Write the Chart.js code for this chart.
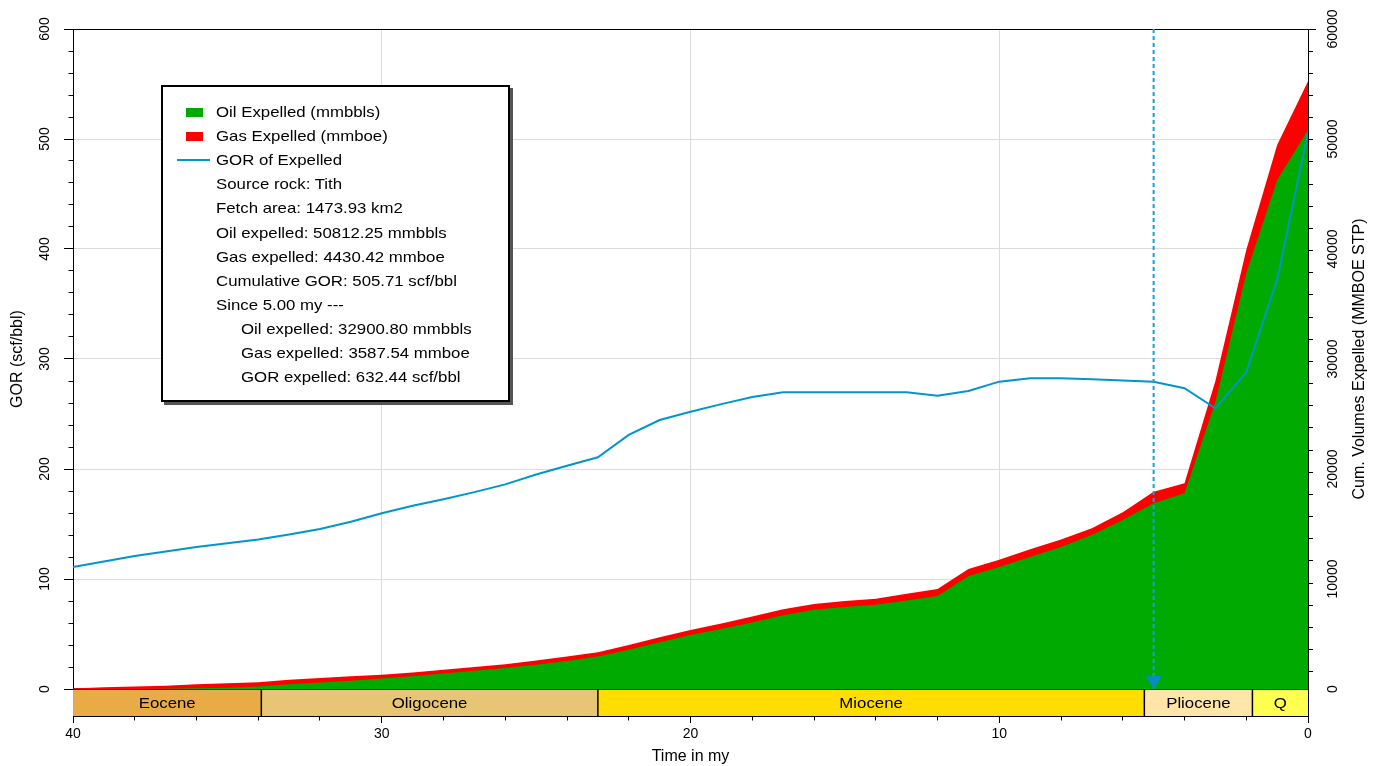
<!DOCTYPE html>
<html>
<head>
<meta charset="utf-8">
<script src="https://cdn.jsdelivr.net/npm/chart.js@4.4.1/dist/chart.umd.min.js"></script>
<style>
html,body{margin:0;padding:0;background:#fff;overflow:hidden;}
#wrap{position:relative;width:1374px;height:766px;}
#c{position:absolute;left:0;top:0;}
#legendBox{position:absolute;left:161px;top:85px;width:349px;height:317px;box-sizing:border-box;border:2px solid #000;background:#fff;box-shadow:3px 3px 0 #555;font:15px 'Liberation Sans',Arial,sans-serif;color:#000;}
.row{position:absolute;left:0;height:24px;width:100%;}
.txt{position:absolute;top:0;line-height:24px;white-space:nowrap;transform:scaleX(1.12);transform-origin:0 50%;}
.sw{position:absolute;}
</style>
</head>
<body>
<div id="wrap">
<canvas id="c" width="1374" height="766"></canvas>
<div id="legendBox"></div>
</div>
<script>
// ---------------- data ----------------
const ageMy = [40,39,38,37,36,35,34,33,32,31,30,29,28,27,26,25,24,23,22,21,20,19,18,17,16,15,14,13,12,11,10,9,8,7,6,5,4,3,2,1,0];
// cumulative oil expelled (mmbbls)
const oilExpelled = [0,0,0,20,60,120,230,430,600,760,950,1150,1400,1650,1900,2200,2550,2950,3570,4250,4900,5450,6050,6700,7200,7450,7650,8050,8450,10250,11100,12000,12900,14000,15360,16880,17790,26100,37800,46270,50810];
// cumulative gas expelled (mmboe)
const gasExpelled = [50,150,230,280,370,400,390,400,400,390,350,350,350,350,350,400,400,400,430,450,460,500,550,550,520,550,550,600,650,650,650,700,700,620,700,1055,910,1900,2100,3180,4440];
// GOR of expelled (scf/bbl)
const gorExpelled = [111,116,121,125,129,132.5,136,140.5,145.5,152,159.7,166.5,172.5,179,186,195,203,210.6,231,244.5,252,259,265.5,269.7,269.7,269.7,269.7,269.7,266.5,271,279.4,282.4,282.4,281.5,280.5,279.4,273.4,255.2,288,372,505.7];

const epochNames = ['Eocene','Oligocene','Miocene','Pliocene','Q'];
const epochStart = [40,33.9,23.0,5.3,1.8];
const epochEnd   = [33.9,23.0,5.3,1.8,0];
const sinceAgeMy = 5.0;

const xTickLabels = [40,30,20,10,0];
const leftTickLabels = [0,100,200,300,400,500,600];
const rightTickLabels = [0,10000,20000,30000,40000,50000,60000];

const legendSeries = ['Oil Expelled (mmbbls)','Gas Expelled (mmboe)','GOR of Expelled'];
const infoLines = ['Source rock: Tith','Fetch area: 1473.93 km2','Oil expelled: 50812.25 mmbbls','Gas expelled: 4430.42 mmboe','Cumulative GOR: 505.71 scf/bbl','Since 5.00 my ---'];
const sinceLines = ['Oil expelled: 32900.80 mmbbls','Gas expelled: 3587.54 mmboe','GOR expelled: 632.44 scf/bbl'];

// ---------------- styles ----------------
const epochFill = ['#e9ab45','#e8c575','#ffdd00','#ffe6a8','#ffff50'];
const OIL_COLOR = '#00aa00', GAS_COLOR = '#ff0000', GOR_COLOR = '#0096cc';
const FONT = "'Liberation Sans', Arial, Helvetica, sans-serif";
const LEFT_MAX = 600, RIGHT_MAX = 60000;
const GEO_FRAC = 27/660;                 // height of the epoch band relative to the value range
const leftMin = -LEFT_MAX * GEO_FRAC;
const rightMin = -RIGHT_MAX * GEO_FRAC;

Chart.defaults.font.family = FONT;
Chart.defaults.color = '#000';

const pts = ys => ageMy.map((a,i) => ({x:a, y:ys[i]}));

// arrow glyph: tip at the canvas centre
const arrowImg = (() => {
  const c = document.createElement('canvas'); c.width = 17; c.height = 28;
  const g = c.getContext('2d'); g.fillStyle = '#0a8cc2';
  g.beginPath(); g.moveTo(0.5,1); g.lineTo(16.5,1); g.lineTo(8.5,14); g.closePath(); g.fill();
  return c;
})();

const geoFills = epochNames.map((n,i) => ({
  label:n, data:[{x:epochStart[i],y:0},{x:epochEnd[i],y:0}], xAxisID:'x', yAxisID:'y',
  backgroundColor:epochFill[i], borderColor:'#000', borderWidth:1.5, fill:{value:leftMin},
  pointRadius:0, order:6
}));
const geoBounds = epochEnd.slice(0,-1).map(b => ({
  label:'b'+b, data:[{x:b,y:0},{x:b,y:leftMin}], xAxisID:'x', yAxisID:'y',
  borderColor:'#000', borderWidth:1.5, fill:false, pointRadius:0, order:5
}));

const axisText = {
  id:'axisText',
  afterDatasetsDraw(chart){
    const ctx = chart.ctx, x = chart.scales.x, y = chart.scales.y;
    ctx.save();
    ctx.fillStyle = '#000'; ctx.textAlign = 'center'; ctx.textBaseline = 'middle';
    ctx.font = '15px ' + FONT;
    const cy = (y.getPixelForValue(0) + y.getPixelForValue(leftMin)) / 2 + 1;
    epochNames.forEach((n,i) => {
      const cx = (x.getPixelForValue(epochStart[i]) + x.getPixelForValue(epochEnd[i])) / 2;
      ctx.save(); ctx.translate(cx, cy); ctx.scale(1.12,1); ctx.fillText(n,0,0); ctx.restore();
    });
    ctx.restore();
  },
  afterDraw(chart){
    const ctx = chart.ctx, y = chart.scales.y, y2 = chart.scales.y2;
    const rot = (px, py, t) => { ctx.save(); ctx.translate(px, py); ctx.rotate(-Math.PI/2); ctx.fillText(t,0,0); ctx.restore(); };
    ctx.save();
    ctx.fillStyle = '#000'; ctx.textAlign = 'center'; ctx.textBaseline = 'middle';
    ctx.font = '14px ' + FONT;
    leftTickLabels.forEach(v => rot(y.right - 28, y.getPixelForValue(v), String(v)));
    rightTickLabels.forEach(v => rot(y2.left + 25, y2.getPixelForValue(v), String(v)));
    ctx.font = '16px ' + FONT;
    const midY = (chart.chartArea.top + y.getPixelForValue(0)) / 2;
    rot(y.left + 18, midY, 'GOR (scf/bbl)');
    rot(y2.left + 52, midY, 'Cum. Volumes Expelled (MMBOE STP)');
    ctx.restore();
  }
};

new Chart(document.getElementById('c'), {
  type:'line',
  data:{ datasets:[
    { label:'arrow', data:[{x:sinceAgeMy,y:0}], xAxisID:'x', yAxisID:'y', showLine:false, pointStyle:arrowImg, pointRadius:9, order:0 },
    { label:'since', data:[{x:sinceAgeMy,y:LEFT_MAX},{x:sinceAgeMy,y:0}], xAxisID:'x', yAxisID:'y', borderColor:'#159fdb', borderWidth:2, borderDash:[4,3], pointRadius:0, fill:false, order:1 },
    { label:legendSeries[2], data:pts(gorExpelled), xAxisID:'x', yAxisID:'y', borderColor:GOR_COLOR, borderWidth:2, pointRadius:0, fill:false, tension:0, order:2 },
    { label:legendSeries[0], data:pts(oilExpelled), xAxisID:'x', yAxisID:'y2', backgroundColor:OIL_COLOR, borderColor:OIL_COLOR, borderWidth:0, pointRadius:0, fill:'origin', order:3 },
    { label:legendSeries[1], data:pts(gasExpelled), xAxisID:'x', yAxisID:'y2', backgroundColor:GAS_COLOR, borderColor:GAS_COLOR, borderWidth:0, pointRadius:0, fill:'origin', order:4 },
    ...geoBounds,
    ...geoFills
  ]},
  options:{
    responsive:false, animation:false, devicePixelRatio:1,
    layout:{padding:0},
    plugins:{ legend:{display:false}, tooltip:{enabled:false}, filler:{propagate:false} },
    elements:{ line:{tension:0} },
    scales:{
      x:{ type:'linear', position:'bottom', reverse:true, min:0, max:40,
        afterFit:s => { s.height = 50; },
        ticks:{ stepSize:2, autoSkip:false, maxRotation:0, minRotation:0, padding:3, font:{size:14}, color:'#000',
          callback:v => xTickLabels.includes(v) ? String(v) : '' },
        grid:{ color:c => (c.tick && [10,20,30].includes(c.tick.value)) ? '#dcdcdc' : 'rgba(0,0,0,0)',
          tickColor:'#000', tickLength:7, lineWidth:1,
          tickBorderDash:c => (c.tick && c.tick.value % 10 === 0) ? [] : [3.5,100] },
        border:{ display:true, color:'#000', width:1 },
        title:{ display:true, text:'Time in my', font:{size:16}, padding:{top:0,bottom:0}, color:'#000' } },
      xTop:{ type:'linear', position:'top', reverse:true, min:0, max:40,
        afterFit:s => { s.height = 29; },
        ticks:{display:false}, grid:{drawOnChartArea:false, drawTicks:false},
        border:{display:true, color:'#000', width:1} },
      y:{ type:'linear', position:'left', min:leftMin, max:LEFT_MAX,
        afterBuildTicks:s => { s.ticks = s.ticks.filter(t => t.value >= -1e-6); },
        afterFit:s => { s.width = 73; },
        ticks:{ stepSize:20, autoSkip:false, color:'rgba(0,0,0,0)', font:{size:14} },
        grid:{ color:c => (c.tick && c.tick.value > 0 && c.tick.value < LEFT_MAX && c.tick.value % 100 === 0) ? '#dcdcdc' : 'rgba(0,0,0,0)',
          tickColor:'#000', tickLength:9, lineWidth:1,
          tickBorderDash:c => (c.tick && c.tick.value % 100 === 0) ? [] : [0,4.5,20,0] },
        border:{ display:true, color:'#000', width:1 } },
      y2:{ type:'linear', position:'right', min:rightMin, max:RIGHT_MAX, stacked:true,
        afterBuildTicks:s => { s.ticks = s.ticks.filter(t => t.value >= -1e-6); },
        afterFit:s => { s.width = 66; },
        ticks:{ stepSize:2000, autoSkip:false, color:'rgba(0,0,0,0)', font:{size:14} },
        grid:{ drawOnChartArea:false, tickColor:'#000', tickLength:8,
          tickBorderDash:c => (c.tick && c.tick.value % 10000 === 0) ? [] : [4,100] },
        border:{ display:true, color:'#000', width:1 } }
    }
  },
  plugins:[axisText]
});

// ---------------- legend box (HTML) ----------------
(function(){
  const box = document.getElementById('legendBox');
  const rowTop = i => 25 + 24.1*i - 12;
  const addRow = (i, textLeft, text, sym) => {
    const r = document.createElement('div'); r.className = 'row'; r.style.top = rowTop(i) + 'px';
    if (sym) { const s = document.createElement('div'); s.className = 'sw'; Object.assign(s.style, sym); r.appendChild(s); }
    const t = document.createElement('div'); t.className = 'txt'; t.style.left = textLeft + 'px'; t.textContent = text; r.appendChild(t);
    box.appendChild(r);
  };
  addRow(0, 53, legendSeries[0], {left:'23px', top:'8px', width:'17px', height:'9px', background:OIL_COLOR});
  addRow(1, 53, legendSeries[1], {left:'23px', top:'8px', width:'17px', height:'9px', background:GAS_COLOR});
  addRow(2, 53, legendSeries[2], {left:'14px', top:'11px', width:'33px', height:'2px', background:GOR_COLOR});
  infoLines.forEach((t,k) => addRow(3+k, 53, t));
  sinceLines.forEach((t,k) => addRow(9+k, 78, t));
})();
</script>
</body>
</html>
